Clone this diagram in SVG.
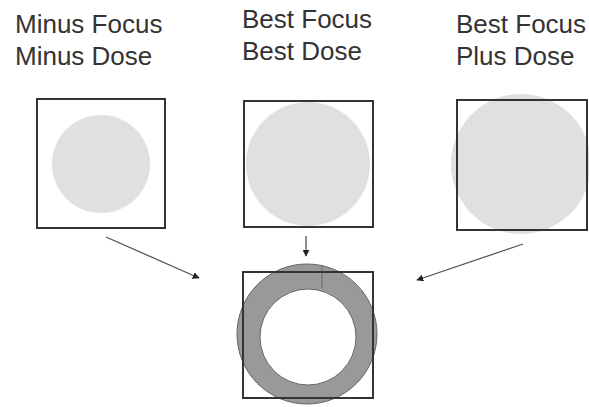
<svg xmlns="http://www.w3.org/2000/svg" width="589" height="407" viewBox="0 0 589 407">
<style>
.lbl{font-family:"Liberation Sans",Arial,sans-serif;font-size:26px;fill:#333}
.box{fill:none;stroke:#333;stroke-width:2}
.spot{fill:#e0e0e2}
.ring{fill:#999;fill-rule:evenodd;stroke:#666;stroke-width:1}
.conn{stroke:#555;stroke-width:1.3;fill:none;marker-end:url(#ah)}
</style>
<defs>
<marker id="ah" viewBox="0 0 10 10" refX="9" refY="5" markerWidth="7" markerHeight="7" markerUnits="userSpaceOnUse" orient="auto">
<path d="M0,0 L10,5 L0,10 z" fill="#222"/>
</marker>
</defs>
<rect width="589" height="407" fill="#fff"/>
<g id="minus">
<text class="lbl" x="15" y="33">Minus Focus</text>
<text class="lbl" x="15" y="65">Minus Dose</text>
<circle class="spot" cx="101" cy="164" r="49"/>
<rect class="box" x="37" y="99" width="128" height="129"/>
</g>
<g id="best">
<text class="lbl" x="242" y="28">Best Focus</text>
<text class="lbl" x="242" y="60">Best Dose</text>
<circle class="spot" cx="308" cy="164" r="62"/>
<rect class="box" x="244" y="101" width="129" height="126"/>
</g>
<g id="plus">
<text class="lbl" x="456" y="33">Best Focus</text>
<text class="lbl" x="456" y="65">Plus Dose</text>
<circle class="spot" cx="521" cy="164" r="70"/>
<rect class="box" x="457" y="100" width="130" height="130"/>
</g>
<g id="result">
<path class="ring" d="M237,334 a70,70 0 1,0 140,0 a70,70 0 1,0 -140,0 Z M260,337 a48,48 0 1,1 96,0 a48,48 0 1,1 -96,0 Z"/>
<line x1="322" y1="265" x2="322" y2="288" stroke="#666" stroke-width="1"/>
<rect class="box" x="243" y="272" width="130" height="126"/>
</g>
<g id="connectors">
<line class="conn" x1="106" y1="237" x2="199" y2="278"/>
<line class="conn" x1="306" y1="236" x2="306" y2="256"/>
<line class="conn" x1="523" y1="244" x2="417" y2="280"/>
</g>
</svg>
